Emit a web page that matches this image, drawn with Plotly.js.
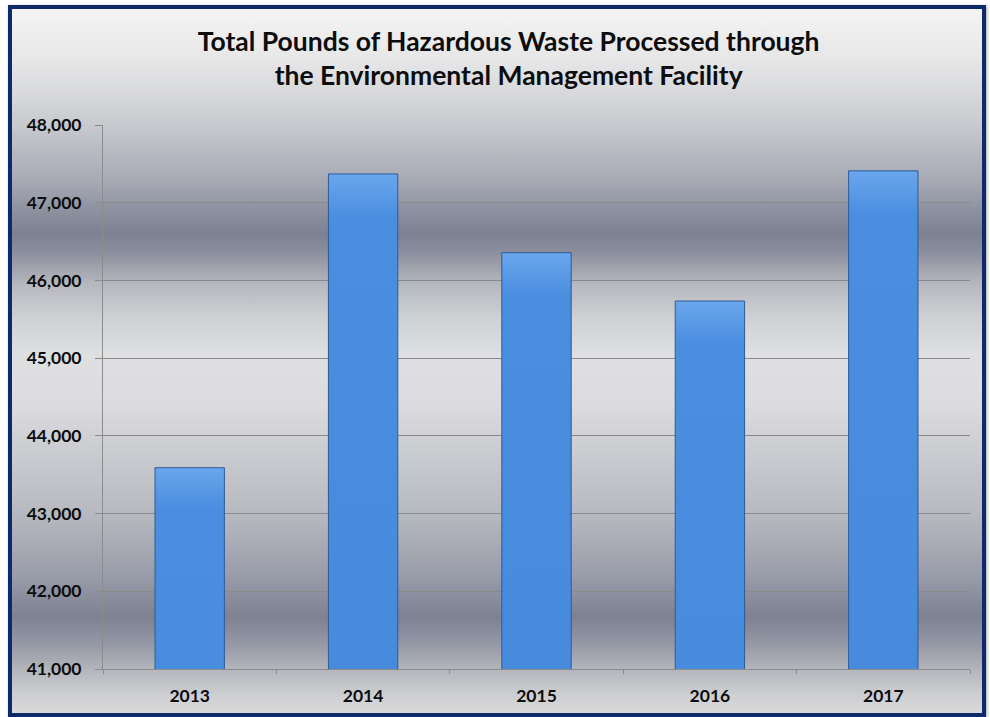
<!DOCTYPE html>
<html>
<head>
<meta charset="utf-8">
<script src="https://cdn.plot.ly/plotly-3.0.1.min.js"></script>
<style>
  html, body { margin: 0; padding: 0; background: #ffffff; width: 990px; height: 717px; overflow: hidden; }
  #frame {
    position: absolute; left: 8px; top: 5px; width: 978px; height: 712px;
    box-sizing: border-box; border: 4px solid #0c2a6c;
    box-shadow: 1px 1px 3px rgba(0,0,0,0.35);
    background: linear-gradient(to bottom,
      #f4f4f4 0px, #e7e7e8 50px, #d5d6d9 90px, #c6c8cd 118px,
      #a5a8b3 175px, #8a8e9d 205px, #7c8092 225px, #8d909e 245px,
      #b6b8bf 275px, #d0d1d4 310px, #dedfe0 345px, #dcdcde 395px,
      #cfd0d4 430px, #b7b9c0 505px, #9a9daa 565px, #7d8191 608px,
      #9598a5 635px, #b3b5bb 660px, #cdced1 685px, #dcdcdc 708px);
  }
  #chart { position: absolute; left: 0; top: 0; width: 970px; height: 704px; }
</style>
</head>
<body>
<div id="frame"><div id="chart"></div></div>
<script>
// Annual totals, pounds of hazardous waste
const years = ['2013', '2014', '2015', '2016', '2017'];
const pounds = [43590, 47370, 46357, 45735, 47410];
const yTicks = [41000, 42000, 43000, 44000, 45000, 46000, 47000, 48000];
const yTickText = ['41,000', '42,000', '43,000', '44,000', '45,000', '46,000', '47,000', '48,000'];

const labelFont = { family: 'Lato, "Open Sans", sans-serif', size: 17.5, color: '#0d0d0d', weight: 700 };

const trace = {
  type: 'bar',
  x: years,
  y: pounds,
  marker: { color: '#3f7fcf', line: { color: '#2d5a98', width: 1 } },
  hoverinfo: 'x+y'
};

const layout = {
  width: 970,
  height: 704,
  margin: { l: 91, r: 12, t: 116, b: 44 },
  paper_bgcolor: 'rgba(0,0,0,0)',
  plot_bgcolor: 'rgba(0,0,0,0)',
  bargap: 0.6,
  showlegend: false,
  title: {
    text: 'Total Pounds of Hazardous Waste Processed through<br>the Environmental Management Facility',
    font: { family: 'Lato, "Open Sans", sans-serif', size: 26.5, color: '#0d0d0d', weight: 700 },
    x: 0.512, xanchor: 'center', xref: 'container',
    y: 0.941, yanchor: 'middle', yref: 'container'
  },
  xaxis: {
    type: 'category',
    showline: true, linecolor: '#8c8c8c', linewidth: 1,
    ticks: 'outside', tickson: 'boundaries', ticklen: 4, tickcolor: '#8c8c8c',
    tickfont: labelFont,
    ticklabelstandoff: 11,
    showgrid: false, zeroline: false
  },
  yaxis: {
    range: [41000, 48000],
    tickvals: yTicks, ticktext: yTickText,
    showline: true, linecolor: '#8c8c8c', linewidth: 1,
    ticks: 'outside', ticklen: 7, tickcolor: '#8c8c8c',
    tickfont: labelFont,
    ticklabelstandoff: 10,
    showgrid: true, gridcolor: '#8a8a8a', gridwidth: 1,
    zeroline: false
  }
};

Plotly.newPlot('chart', [trace], layout, { displayModeBar: false, staticPlot: true }).then(function (gd) {
  // Shade each bar from a lighter top to a deeper bottom
  const svg = gd.querySelector('svg.main-svg');
  const ns = 'http://www.w3.org/2000/svg';
  let defs = svg.querySelector('defs');
  if (!defs) { defs = document.createElementNS(ns, 'defs'); svg.insertBefore(defs, svg.firstChild); }
  const grad = document.createElementNS(ns, 'linearGradient');
  grad.setAttribute('id', 'barShade');
  grad.setAttribute('x1', '0'); grad.setAttribute('y1', '0');
  grad.setAttribute('x2', '0'); grad.setAttribute('y2', '1');
  [['0', '#6aa6ec'], ['0.012', '#4a8ee0'], ['0.5', '#4080d0'], ['1', '#3666aa']].forEach(function (s) {
    const st = document.createElementNS(ns, 'stop');
    st.setAttribute('offset', s[0]); st.setAttribute('stop-color', s[1]);
    grad.appendChild(st);
  });
  defs.appendChild(grad);
  gd.querySelectorAll('.bars .point path').forEach(function (p) {
    p.style.fill = 'url(#barShade)';
  });
});
</script>
</body>
</html>
